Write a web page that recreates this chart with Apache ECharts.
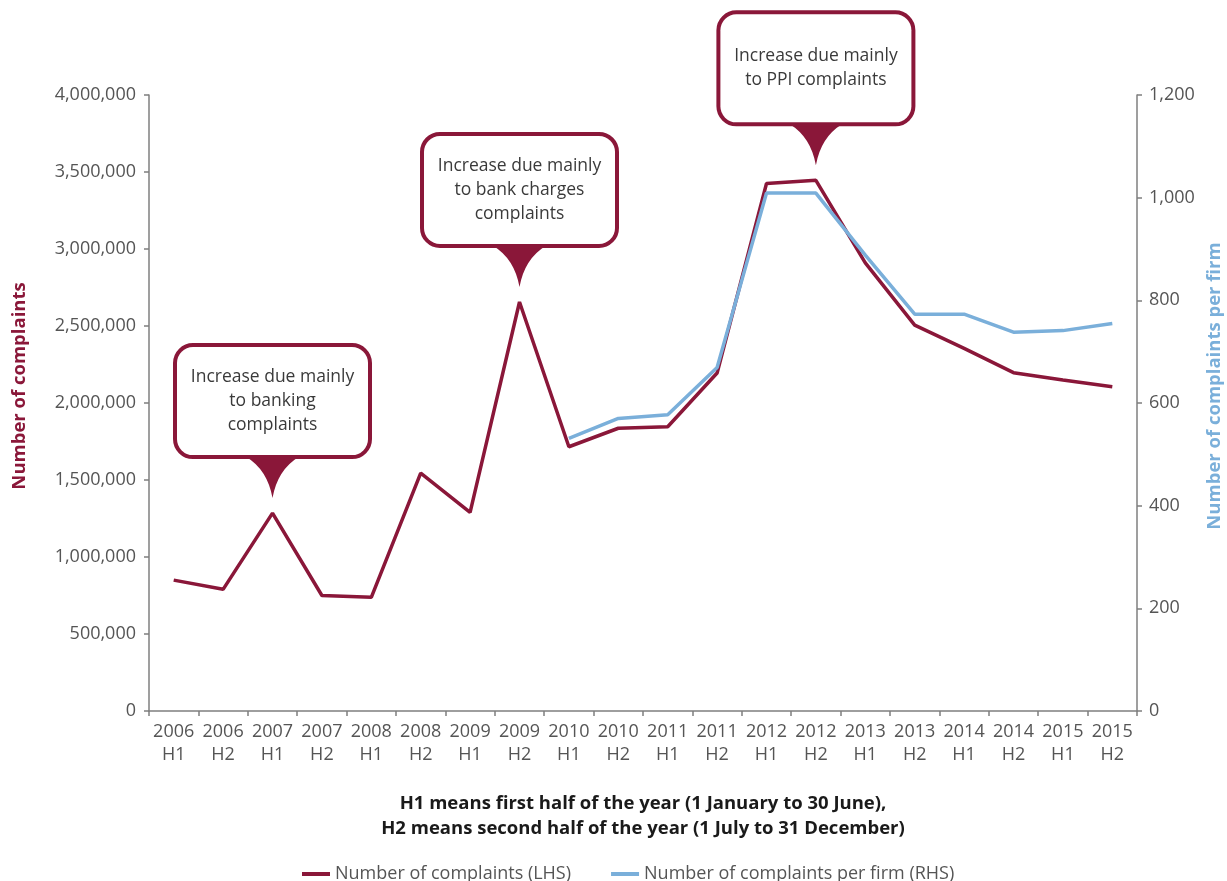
<!DOCTYPE html>
<html>
<head>
<meta charset="utf-8">
<title>Complaints</title>
<script src="https://cdn.jsdelivr.net/npm/echarts@6/dist/echarts.min.js"></script>
<style>
  html, body { margin: 0; padding: 0; background: #fff; }
  #chart { width: 1227px; height: 881px; }
</style>
</head>
<body>
<div id="chart"></div>
<script>
// Half-year periods
var periods = ['2006 H1', '2006 H2', '2007 H1', '2007 H2', '2008 H1', '2008 H2', '2009 H1', '2009 H2',
  '2010 H1', '2010 H2', '2011 H1', '2011 H2', '2012 H1', '2012 H2', '2013 H1', '2013 H2',
  '2014 H1', '2014 H2', '2015 H1', '2015 H2'];

// Total complaints (left axis)
var complaints = [850000, 790000, 1285000, 750000, 738000, 1545000, 1290000, 2656000,
  1716000, 1836000, 1846000, 2195000, 3425000, 3446000, 2910000, 2506000,
  2355000, 2197000, 2149000, 2106000];

// Complaints per firm (right axis), reported from 2010 H1
var perFirm = [null, null, null, null, null, null, null, null,
  531, 570, 577, 669, 1009, 1009, 888, 773,
  773, 738, 741, 755];

// Callout notes: period index and text
var noteIndex = [2, 7, 13];
var noteText = [
  'Increase due mainly\nto banking\ncomplaints',
  'Increase due mainly\nto bank charges\ncomplaints',
  'Increase due mainly\nto PPI complaints'
];

var seriesNames = ['Number of complaints (LHS)', 'Number of complaints per firm (RHS)'];

var RED = '#8A1739';
var BLUE = '#7AAFDA';
var GREY = '#555555';
var FONT = '"Open Sans", "Noto Sans", sans-serif';

var chart = echarts.init(document.getElementById('chart'), null, { renderer: 'canvas' });

// Downward pointer under each callout box; its tip sits just above the point
var pointer = 'path://M0 0 L52 0 Q31 13 26 41 Q21 13 0 0 Z';

var notes = noteIndex.map(function (idx, k) {
  return {
    coord: [periods[idx], complaints[idx]],
    value: noteText[k]
  };
});

chart.setOption({
  animation: false,
  backgroundColor: '#ffffff',
  textStyle: { fontFamily: FONT },
  grid: { left: 149, right: 90, top: 95, bottom: 170, containLabel: false },
  legend: {
    data: seriesNames,
    left: 297,
    top: 860,
    icon: 'rect',
    itemWidth: 28,
    itemHeight: 4,
    itemGap: 40,
    textStyle: { fontFamily: FONT, fontSize: 18, color: GREY }
  },
  xAxis: {
    type: 'category',
    data: periods,
    boundaryGap: true,
    name: 'H1 means first half of the year (1 January to 30 June),\nH2 means second half of the year (1 July to 31 December)',
    nameLocation: 'middle',
    nameGap: 80,
    nameTextStyle: {
      fontFamily: FONT, fontSize: 18.5, fontWeight: 'bold', color: '#1a1a1a',
      lineHeight: 25, align: 'center'
    },
    axisLine: { lineStyle: { color: '#7f7f7f', width: 1.5 } },
    axisTick: { show: true, length: 5, lineStyle: { color: '#7f7f7f', width: 1.5 } },
    axisLabel: {
      interval: 0,
      margin: 9,
      fontSize: 18,
      lineHeight: 23,
      color: GREY,
      fontFamily: FONT,
      formatter: function (v) { return v.replace(' ', '\n'); }
    }
  },
  yAxis: [
    {
      type: 'value',
      min: 0,
      max: 4000000,
      interval: 500000,
      position: 'left',
      axisLine: { show: true, lineStyle: { color: '#7f7f7f', width: 1.5 } },
      axisTick: { show: true, length: 5, lineStyle: { color: '#7f7f7f', width: 1.5 } },
      splitLine: { show: false },
      axisLabel: {
        margin: 13,
        fontSize: 18,
        color: GREY,
        fontFamily: FONT,
        formatter: function (v) { return v.toLocaleString('en-US'); }
      }
    },
    {
      type: 'value',
      min: 0,
      max: 1200,
      interval: 200,
      position: 'right',
      axisLine: { show: true, lineStyle: { color: '#7f7f7f', width: 1.5 } },
      axisTick: { show: true, length: 5, lineStyle: { color: '#7f7f7f', width: 1.5 } },
      splitLine: { show: false },
      axisLabel: {
        margin: 12,
        fontSize: 18,
        color: GREY,
        fontFamily: FONT,
        formatter: function (v) { return v.toLocaleString('en-US'); }
      }
    }
  ],
  graphic: [
    {
      type: 'text',
      x: 20,
      y: 386,
      rotation: Math.PI / 2,
      style: {
        text: 'Number of complaints',
        fill: RED,
        font: 'bold 18.5px ' + FONT,
        textAlign: 'center',
        textVerticalAlign: 'middle'
      }
    },
    {
      type: 'text',
      x: 1215,
      y: 386,
      rotation: Math.PI / 2,
      style: {
        text: 'Number of complaints per firm',
        fill: BLUE,
        font: 'bold 18.5px ' + FONT,
        textAlign: 'center',
        textVerticalAlign: 'middle'
      }
    }
  ],
  series: [
    {
      name: seriesNames[0],
      type: 'line',
      yAxisIndex: 0,
      data: complaints,
      symbol: 'none',
      lineStyle: { color: RED, width: 3.5 },
      itemStyle: { color: RED },
      z: 2,
      markPoint: {
        symbol: pointer,
        symbolSize: [52, 41],
        symbolOffset: [0, -35.5],
        symbolKeepAspect: false,
        itemStyle: { color: RED },
        label: {
          show: true,
          position: 'top',
          distance: 56,
          formatter: function (p) { return p.value; },
          fontFamily: FONT,
          fontSize: 17.5,
          lineHeight: 24,
          color: '#3a3a3a',
          backgroundColor: '#ffffff',
          borderColor: RED,
          borderWidth: 4,
          borderRadius: 16,
          padding: 0,
          width: 191,
          height: 108,
          align: 'center',
          verticalAlign: 'middle'
        },
        data: notes
      }
    },
    {
      name: seriesNames[1],
      type: 'line',
      yAxisIndex: 1,
      data: perFirm,
      symbol: 'none',
      connectNulls: false,
      lineStyle: { color: BLUE, width: 3.5 },
      itemStyle: { color: BLUE },
      z: 3
    }
  ]
});
</script>
</body>
</html>
